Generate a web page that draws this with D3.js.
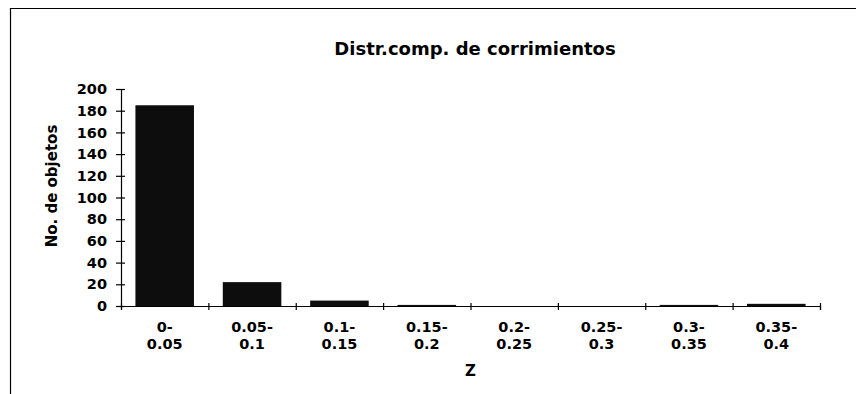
<!DOCTYPE html>
<html>
<head>
<meta charset="utf-8">
<script src="https://cdn.jsdelivr.net/npm/d3@7"></script>
<style>
  body { margin: 0; background: #fff; }
  text { font-family: "DejaVu Sans", sans-serif; font-weight: bold; fill: #000; }
</style>
</head>
<body>
<script>
/* chart data */
var categories = ["0-0.05", "0.05-0.1", "0.1-0.15", "0.15-0.2", "0.2-0.25", "0.25-0.3", "0.3-0.35", "0.35-0.4"];
var counts = [185, 22, 5, 1, 0, 0, 1, 2];
var yTicks = [0, 20, 40, 60, 80, 100, 120, 140, 160, 180, 200];
var title = "Distr.comp. de corrimientos";
var xTitle = "Z";
var yTitle = "No. de objetos";

var width = 856;
var height = 394;
var plot = {left: 121, right: 820, top: 89, bottom: 306}; // plot area edges

var svg = d3.select("body").append("svg")
    .attr("width", width)
    .attr("height", height);

// frame of the original figure (left and top edges only show in the scan)
svg.append("path")
    .attr("d", "M10.5," + height + "V8.5H" + width)
    .attr("fill", "none")
    .attr("stroke", "#000")
    .attr("stroke-width", 1.2);

var xScale = d3.scaleBand()
    .domain(categories)
    .range([plot.left, plot.right])
    .paddingInner(0.33)
    .paddingOuter(0.165);

// boundaries between categories, for the tick marks
var xEdge = d3.scaleLinear()
    .domain([0, categories.length])
    .range([plot.left, plot.right]);

var yScale = d3.scaleLinear()
    .domain([0, 200])
    .range([plot.bottom, plot.top]);

/* bars */
svg.selectAll("rect.bar")
    .data(counts)
    .enter()
    .append("rect")
    .attr("class", "bar")
    .attr("x", function(d, i) { return xScale(categories[i]); })
    .attr("width", xScale.bandwidth())
    .attr("y", function(d) { return yScale(d); })
    .attr("height", function(d) { return plot.bottom - yScale(d); })
    .attr("fill", "#0d0d0d");

/* y axis, ticks cross the line */
var yAxis = svg.append("g")
    .attr("transform", "translate(" + plot.left + ",0)")
    .call(d3.axisLeft(yScale).tickValues(yTicks).tickSize(4).tickPadding(10));
yAxis.select(".domain").attr("stroke", "#000").attr("stroke-width", 1.2);
yAxis.selectAll(".tick line").attr("x1", 4).attr("x2", -5).attr("stroke-width", 1.2);
yAxis.selectAll(".tick text").style("font-size", "14.5px").style("font-weight", "bold");

/* x axis: tick marks at category edges */
var xAxis = svg.append("g")
    .attr("transform", "translate(0," + plot.bottom + ")")
    .call(d3.axisBottom(xEdge).tickValues(d3.range(0, categories.length + 1)).tickSize(4).tickFormat(""));
xAxis.select(".domain").attr("stroke", "#000").attr("stroke-width", 1.2);
xAxis.selectAll(".tick line").attr("y1", -3).attr("stroke-width", 1.2);

/* category labels on two lines */
var labels = svg.selectAll("text.xlabel")
    .data(categories)
    .enter()
    .append("text")
    .attr("class", "xlabel")
    .attr("text-anchor", "middle")
    .style("font-size", "14.5px");
labels.append("tspan")
    .attr("x", function(d) { return xScale(d) + xScale.bandwidth() / 2; })
    .attr("y", 332)
    .text(function(d) { return d.slice(0, d.indexOf("-") + 1); });
labels.append("tspan")
    .attr("x", function(d) { return xScale(d) + xScale.bandwidth() / 2; })
    .attr("y", 349)
    .text(function(d) { return d.slice(d.indexOf("-") + 1); });

/* titles */
svg.append("text")
    .attr("x", 475)
    .attr("y", 55)
    .attr("text-anchor", "middle")
    .style("font-size", "18px")
    .text(title);

svg.append("text")
    .attr("x", (plot.left + plot.right) / 2)
    .attr("y", 376)
    .attr("text-anchor", "middle")
    .style("font-size", "15px")
    .text(xTitle);

svg.append("text")
    .attr("transform", "translate(57,186) rotate(-90)")
    .attr("text-anchor", "middle")
    .style("font-size", "15px")
    .text(yTitle);
</script>
</body>
</html>
